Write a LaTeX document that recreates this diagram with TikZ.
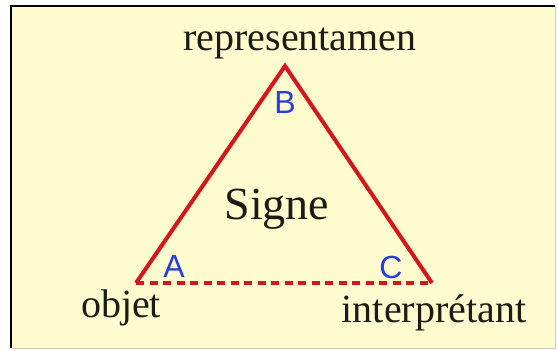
\documentclass[tikz,border=0pt]{standalone}
\usepackage{fontspec}
\setmainfont{Liberation Serif}
\newfontfamily\lettrefont{Liberation Sans}
\usetikzlibrary{positioning}

\definecolor{fondjaune}{RGB}{254,252,206}
\definecolor{rougetri}{RGB}{212,22,30}
\definecolor{bleulettre}{RGB}{40,60,225}
\definecolor{textenoir}{RGB}{28,28,20}

\begin{document}
\begin{tikzpicture}[x=1pt, y=-1pt,
		coin/.style={font=\fontsize{40}{44}\selectfont, text=textenoir, anchor=base, inner sep=0pt},
		lettre/.style={font=\lettrefont\fontsize{32}{34}\selectfont, text=bleulettre, inner sep=0pt},
		cote/.style={draw=rougetri, line width=4pt}]
	% Paramètres de la figure
	\def\Largeur{558}
	\def\Hauteur{351}
	
	% 1. Fond et cadre
	\useasboundingbox (0,0) rectangle (\Largeur,\Hauteur);
	\fill[white] (0,0) rectangle (\Largeur,\Hauteur);
	\fill[fondjaune] (11,6) rectangle (555,348);
	\draw[black, line width=2.5pt] (11,348) -- (11,6) -- (555,6);
	\draw[gray!40, line width=1pt] (11,348) -- (555,348) -- (555,6);
	
	% 2. Sommets du triangle
	\coordinate (sommetB) at (285,66);
	\coordinate (sommetA) at (136,283);
	\coordinate (sommetC) at (432,283);
	
	% 3. Côtés (le côté objet - interprétant est en pointillés)
	\draw[cote, line join=miter] (sommetA) -- (sommetB) -- (sommetC);
	\draw[cote, dash pattern=on 8pt off 5.5pt] (sommetA) -- (sommetC);
	
	% 4. Lettres aux sommets
	\node[lettre] (lettreB) at (285,102) {B};
	\node[lettre] (lettreA) at (174,266) {A};
	\node[lettre] (lettreC) at (391,267) {C};
	
	% 5. Noms des sommets et du signe
	\node[coin] (representamen) at (300,50) {representamen};
	\node[coin] (objet) at (121,317) {objet};
	\node[coin] (interpretant) at (434,322) {interprétant};
	\node[coin, font=\fontsize{46}{50}\selectfont] (signe) at (277,219) {Signe};
	
\end{tikzpicture}
\end{document}
